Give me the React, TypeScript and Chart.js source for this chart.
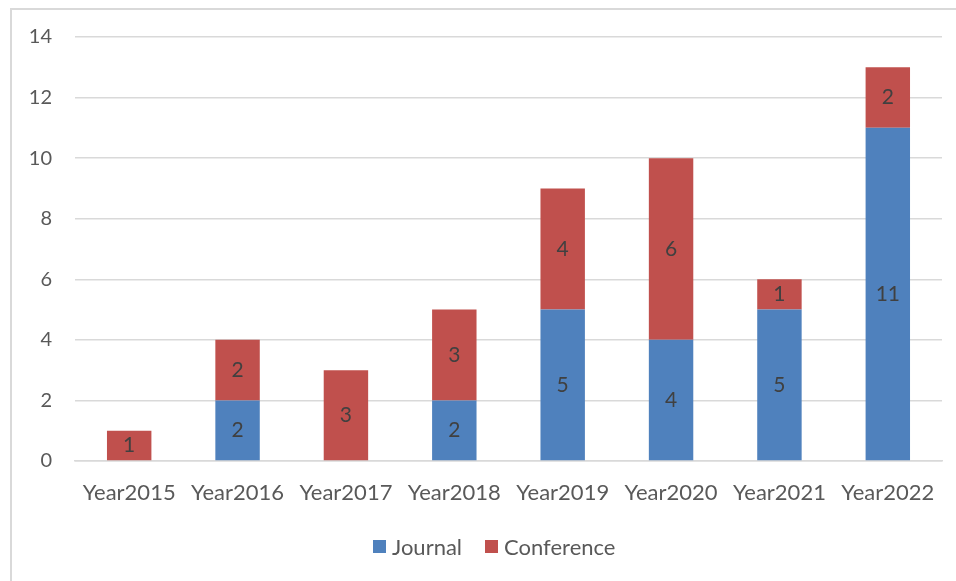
import React, { useEffect, useRef } from "react";
import { Chart, registerables } from "chart.js";

Chart.register(...registerables);

const categories = ["Year2015", "Year2016", "Year2017", "Year2018", "Year2019", "Year2020", "Year2021", "Year2022"];
const journal = [0, 2, 0, 2, 5, 4, 5, 11];
const conference = [1, 2, 3, 3, 4, 6, 1, 2];
const yTicks = [0, 2, 4, 6, 8, 10, 12, 14];
const seriesNames = ["Journal", "Conference"];
const seriesColors = ["#4F81BD", "#C0504D"];

const FONT = "Lato, 'Open Sans', sans-serif";

const labelPlugin = {
  id: "barLabels",
  afterDatasetsDraw(chart: any) {
    const ctx = chart.ctx;
    ctx.save();
    ctx.font = `21px ${FONT}`;
    ctx.fillStyle = "#404040";
    ctx.textAlign = "center";
    ctx.textBaseline = "middle";
    chart.data.datasets.forEach((ds: any, i: number) => {
      const meta = chart.getDatasetMeta(i);
      meta.data.forEach((bar: any, j: number) => {
        const v = ds.data[j];
        if (!v) return;
        const y = (bar.y + bar.base) / 2;
        ctx.fillText(String(v), bar.x, y);
      });
    });
    ctx.restore();
  },
};

export default function App() {
  const ref = useRef<HTMLCanvasElement>(null);
  useEffect(() => {
    if (!ref.current) return;
    const chart = new Chart(ref.current, {
      type: "bar",
      data: {
        labels: categories,
        datasets: [
          { label: seriesNames[0], data: journal, backgroundColor: seriesColors[0], categoryPercentage: 1, barPercentage: 0.41 },
          { label: seriesNames[1], data: conference, backgroundColor: seriesColors[1], categoryPercentage: 1, barPercentage: 0.41 },
        ],
      },
      options: {
        animation: false,
        responsive: false,
        maintainAspectRatio: false,
        layout: { padding: { left: 0, right: 6, top: 29, bottom: 65 } },
        plugins: {
          legend: { display: false },
          tooltip: { enabled: false },
        },
        scales: {
          x: {
            stacked: true,
            grid: { display: false, drawTicks: false },
            border: { display: true, color: "#D9D9D9", width: 1.5 },
            ticks: { font: { family: FONT, size: 22 }, color: "#595959", padding: 19, maxRotation: 0 },
            afterFit: (s: any) => { s.height = 55; s.paddingLeft = 0; s.paddingRight = 0; },
          },
          y: {
            stacked: true,
            min: 0,
            max: 14,
            afterBuildTicks: (s: any) => { s.ticks = yTicks.map((v) => ({ value: v })); },
            grid: { color: "#D9D9D9", lineWidth: 1.5, drawTicks: false },
            border: { display: false },
            ticks: { font: { family: FONT, size: 20 }, color: "#595959", padding: 23 },
            afterFit: (s: any) => { s.width = 67; s.paddingTop = 0; s.paddingBottom = 0; },
          },
        },
      },
      plugins: [labelPlugin],
    });
    return () => chart.destroy();
  }, []);
  return (
    <div style={{ position: "absolute", left: 0, top: 0, width: 956, height: 581, background: "#fff", overflow: "hidden" }}>
      <div style={{ position: "absolute", left: 10, top: 8, width: 960, height: 600, borderLeft: "2px solid #D9D9D9", borderTop: "2px solid #D9D9D9" }} />
      <canvas ref={ref} width={940} height={573} style={{ position: "absolute", left: 8, top: 8, width: 940, height: 573 }} />
      <div style={{ position: "absolute", left: 373, top: 532, height: 28, display: "flex", alignItems: "center", fontFamily: FONT, fontSize: 22, color: "#595959", whiteSpace: "nowrap" }}>
        {seriesNames.map((n, i) => (
          <div key={n} style={{ display: "flex", alignItems: "center", marginRight: i === 0 ? 23 : 0 }}>
            <span style={{ display: "inline-block", width: 13, height: 13, background: seriesColors[i], marginRight: 6 }} />
            <span>{n}</span>
          </div>
        ))}
      </div>
    </div>
  );
}
